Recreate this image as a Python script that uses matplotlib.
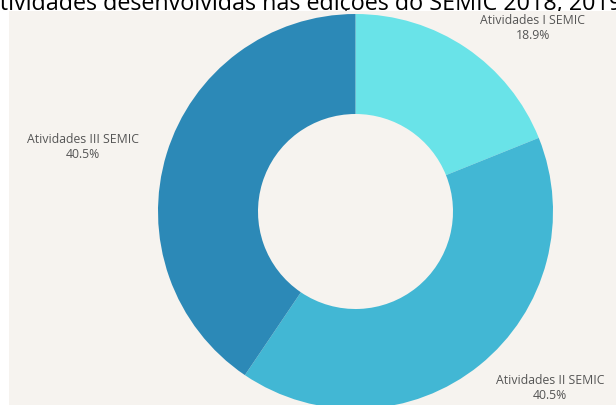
import matplotlib.pyplot as plt
from matplotlib.patches import Rectangle

labels = ['Atividades I SEMIC', 'Atividades II SEMIC', 'Atividades III SEMIC']
values = [18.9, 40.5, 40.5]
colors = ['#69e3e8', '#42b7d4', '#2c89b7']

plt.rcParams['font.family'] = ['Open Sans', 'DejaVu Sans']

fig = plt.figure(figsize=(6.16, 4.05), dpi=100)
fig.patch.set_facecolor('white')
ax = fig.add_axes([0, 0, 1, 1])
ax.axis('off')

# painel bege (cobre a parte de baixo do título)
ax.add_patch(Rectangle((9, 0), 607, 394, facecolor='#f6f3ef', edgecolor='none', zorder=0))

ax.pie(values, colors=colors, startangle=90, counterclock=False,
       center=(355.5, 193.5), radius=197.5,
       wedgeprops=dict(width=100, edgecolor='none'), frame=False)
ax.set_xlim(0, 616)
ax.set_ylim(0, 405)
ax.set_aspect('equal')

# rótulos
pos = [(533, 377), (550, 17), (83, 258)]
for (x, y), lab, v in zip(pos, labels, values):
    ax.text(x, y, f'{lab}\n{v}%', ha='center', va='center', fontsize=8.8,
            color='#555555', linespacing=1.2)

ax.text(-15, 394.5, 'Atividades desenvolvidas nas edições do SEMIC 2018, 2019',
        ha='left', va='baseline', fontsize=16.8, color='black', zorder=-1)

fig.savefig('out.png', dpi=100, facecolor=fig.get_facecolor())
